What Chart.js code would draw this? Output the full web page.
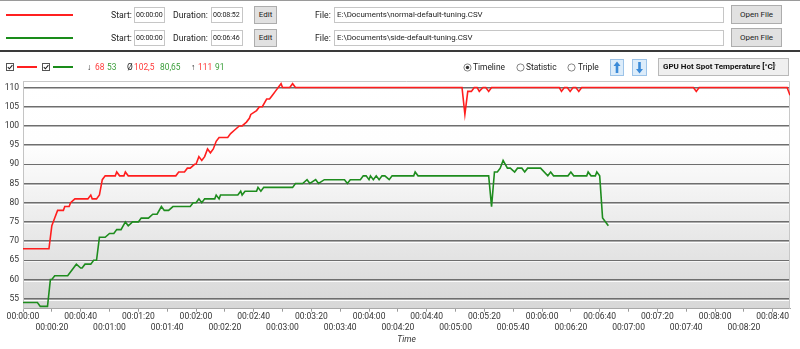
<!DOCTYPE html>
<html>
<head>
<meta charset="utf-8">
<script src="https://cdn.jsdelivr.net/npm/chart.js@4.4.1/dist/chart.umd.min.js"></script>
<style>
  html, body { margin:0; padding:0; background:#fff; }
  body { width:800px; height:349px; overflow:hidden; position:relative; font-family:Roboto, "Liberation Sans", sans-serif; color:#222; }
  .a { position:absolute; white-space:nowrap; }
  .lbl { font-size:8.7px; height:16px; line-height:16px; }
  .inp { box-sizing:border-box; height:16px; border:1px solid #c6c6c6; background:#fff; font-size:7.1px; line-height:14px; padding-left:1px; overflow:hidden; letter-spacing:-0.1px; }
  .btn { box-sizing:border-box; border:1px solid #adadad; background:#e1e1e1; font-size:8px; text-align:center; }
  .st { font-size:8.4px; height:14px; line-height:14px; top:60px; }
  .r { color:#ff3a3a; }
  .g { color:#3a9e3a; }
  canvas { position:absolute; left:0; top:0; }
</style>
</head>
<body>
<canvas id="c" width="800" height="349"></canvas>

<div class="a" style="left:0;top:0;width:800px;height:1px;background:#9a9a9a"></div>
<!-- row 1 -->
<div class="a" style="left:6px;top:14px;width:67px;height:2px;background:#ff2020"></div>
<div class="a lbl" style="left:111px;top:7px">Start:</div>
<div class="a inp" style="left:134px;top:7px;width:31px">00:00:00</div>
<div class="a lbl" style="left:173px;top:7px">Duration:</div>
<div class="a inp" style="left:211px;top:7px;width:32px">00:08:52</div>
<div class="a btn" style="left:254px;top:6px;width:23px;height:18px;line-height:16px">Edit</div>
<div class="a lbl" style="left:315px;top:7px">File:</div>
<div class="a inp" style="left:334px;top:7px;width:390px;padding-left:2px;font-size:7.9px;letter-spacing:0">E:\Documents\normal-default-tuning.CSV</div>
<div class="a btn" style="left:731px;top:5px;width:51px;height:19px;line-height:17px">Open File</div>
<!-- row 2 -->
<div class="a" style="left:6px;top:37px;width:67px;height:2px;background:#1a8c1a"></div>
<div class="a lbl" style="left:111px;top:30px">Start:</div>
<div class="a inp" style="left:134px;top:30px;width:31px">00:00:00</div>
<div class="a lbl" style="left:173px;top:30px">Duration:</div>
<div class="a inp" style="left:211px;top:30px;width:32px">00:06:46</div>
<div class="a btn" style="left:254px;top:29px;width:23px;height:18px;line-height:16px">Edit</div>
<div class="a lbl" style="left:315px;top:30px">File:</div>
<div class="a inp" style="left:334px;top:30px;width:390px;padding-left:2px;font-size:7.9px;letter-spacing:0">E:\Documents\side-default-tuning.CSV</div>
<div class="a btn" style="left:731px;top:28px;width:51px;height:19px;line-height:17px">Open File</div>

<div class="a" style="left:0;top:50px;width:800px;height:2px;background:#3a3a3a"></div>

<!-- row 3 -->
<svg class="a" style="left:6px;top:63px" width="9" height="9"><rect x="0.5" y="0.5" width="7" height="7" fill="#fff" stroke="#555"/><path d="M1.8 4.2 L3.4 5.8 L6.4 2.2" fill="none" stroke="#222" stroke-width="1.1"/></svg>
<div class="a" style="left:17px;top:66px;width:20px;height:2px;background:#ff2020"></div>
<svg class="a" style="left:42px;top:63px" width="9" height="9"><rect x="0.5" y="0.5" width="7" height="7" fill="#fff" stroke="#555"/><path d="M1.8 4.2 L3.4 5.8 L6.4 2.2" fill="none" stroke="#222" stroke-width="1.1"/></svg>
<div class="a" style="left:53px;top:66px;width:20px;height:2px;background:#1a8c1a"></div>
<div class="a st" style="left:87px">↓</div>
<div class="a st r" style="left:95px">68</div>
<div class="a st g" style="left:107px">53</div>
<div class="a st" style="left:127px">Ø</div>
<div class="a st r" style="left:134px">102,5</div>
<div class="a st g" style="left:160px">80,65</div>
<div class="a st" style="left:191px">↑</div>
<div class="a st r" style="left:198px">111</div>
<div class="a st g" style="left:215px">91</div>

<svg class="a" style="left:463px;top:63px" width="9" height="9"><circle cx="4.5" cy="4.5" r="3.6" fill="#fff" stroke="#777" stroke-width="0.9"/><circle cx="4.5" cy="4.5" r="1.7" fill="#333"/></svg>
<div class="a st" style="left:473px">Timeline</div>
<svg class="a" style="left:516px;top:63px" width="9" height="9"><circle cx="4.5" cy="4.5" r="3.6" fill="#fff" stroke="#777" stroke-width="0.9"/></svg>
<div class="a st" style="left:526px">Statistic</div>
<svg class="a" style="left:567px;top:63px" width="9" height="9"><circle cx="4.5" cy="4.5" r="3.6" fill="#fff" stroke="#777" stroke-width="0.9"/></svg>
<div class="a st" style="left:578px">Triple</div>

<svg class="a" style="left:610px;top:59px" width="14" height="17"><rect x="0.5" y="0.5" width="13" height="16" fill="#dcecfa" stroke="#9cc3e8"/><path d="M7 2.5 L10.5 7 L8.3 7 L8.3 14 L5.7 14 L5.7 7 L3.5 7 Z" fill="#3b8ad8"/></svg>
<svg class="a" style="left:632px;top:59px" width="15" height="17"><rect x="0.5" y="0.5" width="14" height="16" fill="#dcecfa" stroke="#9cc3e8"/><path d="M7.5 14.5 L11 10 L8.8 10 L8.8 3 L6.2 3 L6.2 10 L4 10 Z" fill="#3b8ad8"/></svg>
<div class="a" style="left:658px;top:58px;width:131px;height:18px;box-sizing:border-box;border:1px solid #b9b9b9;background:#efefef"></div>
<div class="a" style="left:663px;top:58px;height:18px;line-height:18px;font-size:8px;font-weight:bold;color:#111">GPU Hot Spot Temperature [°C]</div>
<div class="a" style="left:772px;top:58px;height:18px;line-height:18px;font-size:7px;color:#777">˅</div>

<script>
// ---- data ----
const redTimes = [0,18,20,22,24,28,29,32,33,36,45,47,48,51,53,55,57,64,65,67,70,71,73,106,108,112,114,116,119,120,122,124,126,128,130,132,134,136,142,144,147,150,152,155,157,158,162,164,166,169,171,173,175,177,179,180,185,187,189,304.5,306.5,308.5,311,313,315,316.5,319,321,323,325,372,373.5,375.5,377.5,379.5,381.5,383.5,385.5,387.5,465,467,469,530,532];
const redValues = [68,68,74,76,78,78,79,79,80,81,81,82,81,81,82,86,87,87,88,87,87,88,87,87,88,88,89,89,90,90,92,91,92,94,93,94,96,97,97,98,99,100,100,101,102,103,104,105,105,107,107,108,109,110,111,110,110,111,110,110,103,109,109,110,110,109,110,110,109,110,110,109,110,110,109,110,110,109,110,110,109,110,110,108];

const greenTimes = [0,10,12,17,19,20,22,31,37,40,41,43,47,49,51,53,57,60,63,65,68,71,73,76,80,82,87,90,93,96,98,101,104,116,118,120,122,124,126,133,134,136,137,149,151,152,154,162,163,165,167,187,189,194,197,199,203,205,209,223,225,227,234,236,238,240,241,243,245,247,249,251,254,256,271,272,274,323,325,327,329,331,333,336,338,341,343,346,348,350,359,364,366,368,378,380,382,391,392,394,397,398,400,402,406];
const greenValues = [54,54,53,53,60,60,61,61,64,63,63,64,64,65,65,71,71,72,72,73,73,75,74,75,75,76,76,77,77,79,78,78,79,79,80,80,81,80,81,81,82,81,82,82,83,82,83,83,84,83,84,84,85,85,86,85,86,85,86,86,85,86,86,87,87,86,87,86,87,86,87,87,86,87,87,88,87,87,79,88,88,89,91,89,89,88,89,89,88,89,89,87,88,87,87,88,87,87,88,87,87,88,87,76,74];

const yTickValues = [55,60,65,70,75,80,85,90,95,100,105,110];
const xTickValues = [0,20,40,60,80,100,120,140,160,180,200,220,240,260,280,300,320,340,360,380,400,420,440,460,480,500,520];

function fmt(s){
  const h = Math.floor(s/3600), m = Math.floor((s%3600)/60), sec = Math.round(s%60);
  const p = n => String(n).padStart(2,'0');
  return p(h)+':'+p(m)+':'+p(sec);
}

const bgPlugin = {
  id:'bg',
  beforeDraw(chart){
    const {ctx, chartArea:a} = chart;
    const g = ctx.createLinearGradient(0, a.top, 0, a.bottom);
    g.addColorStop(0, '#ffffff');
    g.addColorStop(0.28, '#fefefe');
    g.addColorStop(1, '#d7d7d7');
    ctx.save();
    ctx.fillStyle = g;
    ctx.fillRect(a.left, a.top, a.right - a.left, a.bottom - a.top);
    ctx.restore();
  },
  beforeDatasetsDraw(chart){
    const {ctx, chartArea:a, scales} = chart;
    ctx.save();
    ctx.strokeStyle = 'rgba(255,255,255,0.9)';
    ctx.lineWidth = 1;
    yTickValues.forEach(v => {
      const p = Math.round(scales.y.getPixelForValue(v)) + 1.5;
      ctx.beginPath(); ctx.moveTo(a.left + 1, p); ctx.lineTo(a.right, p); ctx.stroke();
    });
    ctx.strokeStyle = '#c8c8c8';
    ctx.beginPath();
    ctx.moveTo(a.left, a.top + 0.5); ctx.lineTo(a.right - 0.5, a.top + 0.5); ctx.lineTo(a.right - 0.5, a.bottom);
    ctx.stroke();
    ctx.restore();
  }
};

Chart.defaults.font.family = 'Roboto';
Chart.defaults.font.size = 8.5;
Chart.defaults.color = '#333';

new Chart(document.getElementById('c'), {
  type:'line',
  data:{
    datasets:[
      { label:'normal-default-tuning', data: redTimes.map((t,i)=>({x:t, y:redValues[i]})),
        borderColor:'#ff1e1e', borderWidth:1.6, pointRadius:0, tension:0, fill:false },
      { label:'side-default-tuning', data: greenTimes.map((t,i)=>({x:t, y:greenValues[i]})),
        borderColor:'#1e8c1e', borderWidth:1.6, pointRadius:0, tension:0, fill:false }
    ]
  },
  options:{
    responsive:false,
    animation:false,
    layout:{ padding:{ top:81, right:10, left:0, bottom:0 } },
    plugins:{ legend:{display:false}, tooltip:{enabled:false} },
    scales:{
      x:{
        type:'linear', min:0, max:532,
        afterBuildTicks: s => { s.ticks = xTickValues.map(v => ({value:v})); },
        afterFit: s => { s.height = 40.3; },
        grid:{ drawOnChartArea:false, drawTicks:true, tickLength:3, color:'#9a9a9a', lineWidth:1 },
        border:{ display:true, color:'#a8a8a8' },
        ticks:{ autoSkip:false, maxRotation:0, minRotation:0, padding:0,
          font:{ size:8.5, lineHeight:1.3 },
          callback:(v, i) => (i % 2 === 0 ? [fmt(v), ''] : ['', fmt(v)]) },
        title:{ display:true, text:'Time', color:'#333', font:{ size:8.5, style:'italic' }, padding:{ top:0, bottom:4 } }
      },
      y:{
        min:52.4, max:111.7,
        afterBuildTicks: s => { s.ticks = yTickValues.map(v => ({value:v})); },
        afterFit: s => { s.width = 23; },
        grid:{ color:'#6e6e6e', lineWidth:1.5, drawTicks:false },
        border:{ display:true, color:'#c4c4c4' },
        ticks:{ padding:4, font:{ size:8.5 } }
      }
    }
  },
  plugins:[bgPlugin]
});
</script>
</body>
</html>
